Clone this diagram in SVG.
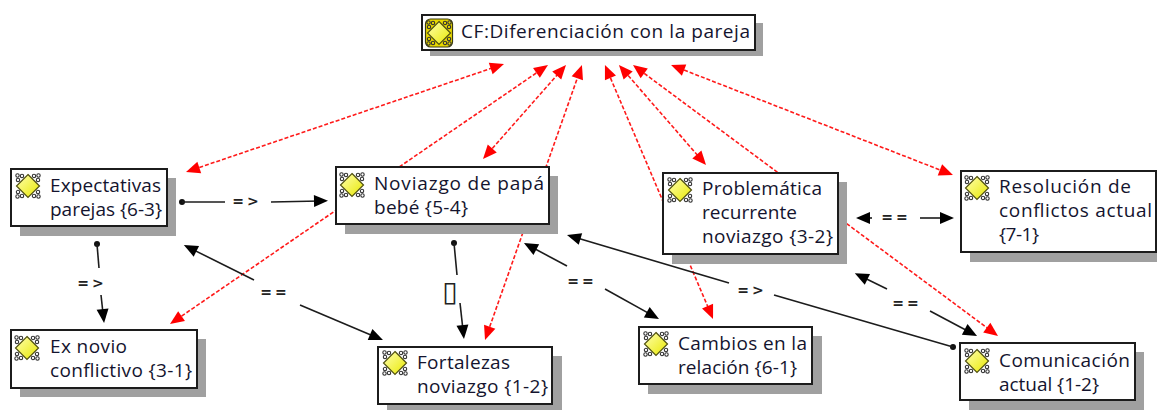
<svg xmlns="http://www.w3.org/2000/svg" xmlns:xlink="http://www.w3.org/1999/xlink" width="1157" height="410" viewBox="0 0 1157 410">
<style>
.box{fill:#fff;stroke:#1c1c1c;stroke-width:2}
.sh{fill:#a0a0a0}
.t{font-family:"Open Sans","DejaVu Sans",sans-serif;font-size:19px;fill:#14142e}
.l{font-family:"DejaVu Sans",sans-serif;font-size:14px;font-weight:bold;letter-spacing:3px;fill:#222;text-anchor:middle}
.r{fill:none;stroke:#ff1a1a;stroke-width:1.6;stroke-dasharray:4 2;marker-start:url(#ra);marker-end:url(#ra)}
.k{fill:none;stroke:#1c1c1c;stroke-width:1.6}
.ks{marker-start:url(#ka)}
.ke{marker-end:url(#ka)}
.d{fill:#111}
.dot{fill:none;stroke:#333;stroke-width:1.1}
</style>
<defs>
<marker id="ra" markerUnits="userSpaceOnUse" markerWidth="16" markerHeight="14" refX="6" refY="6" orient="auto-start-reverse" overflow="visible"><path d="M0 0L14 6L0 12z" fill="#ff0000"/></marker>
<marker id="ka" markerUnits="userSpaceOnUse" markerWidth="16" markerHeight="14" refX="6" refY="6" orient="auto-start-reverse" overflow="visible"><path d="M0 0L14 6L0 12z" fill="#000"/></marker>
<linearGradient id="g" x1="0" y1="0" x2="1" y2="1"><stop offset="0" stop-color="#ffffb0"/><stop offset="1" stop-color="#e8e800"/></linearGradient>
<g id="ic">
<g class="dot"><circle cx="-6" cy="-10" r="1.7"/><circle cx="-10" cy="-6" r="1.7"/><circle cx="-10.500" cy="-10.500" r="1.7"/><circle cx="6" cy="-10" r="1.7"/><circle cx="10" cy="-6" r="1.7"/><circle cx="10.500" cy="-10.500" r="1.7"/><circle cx="-6" cy="10" r="1.7"/><circle cx="-10" cy="6" r="1.7"/><circle cx="-10.500" cy="10.500" r="1.7"/><circle cx="6" cy="10" r="1.7"/><circle cx="10" cy="6" r="1.7"/><circle cx="10.500" cy="10.500" r="1.7"/></g>
<path d="M0-11.500L11.500 0L0 11.500L-11.500 0z" fill="url(#g)" stroke="#505010" stroke-width="1.2"/>
</g>
</defs>
<rect width="1157" height="410" fill="#fff"/>
<g id="connectors">
<path class="r" d="M193.6 169.4L496.4 66.6"/>
<path class="r" d="M176.6 319.5L541.4 69.5"/>
<path class="r" d="M488.3 153L560.7 71"/>
<path class="r" d="M487.7 332.5L579.3 72.5"/>
<path class="r" d="M608.1 72.4L709.9 311.6"/>
<path class="r" d="M624.2 71L700.8 159"/>
<path class="r" d="M639.4 69.8L991.6 331.2"/>
<path class="r" d="M678.5 67.9L945.5 172.1"/>
<circle class="d" cx="182" cy="202" r="3"/><path class="k" d="M182 202L225 202"/>
<path class="k ke" d="M271 202L320 201"/>
<path class="k ks" d="M191 248.6L254 280"/>
<path class="k ke" d="M300 305L375.6 336.9"/>
<circle class="d" cx="97" cy="244" r="3"/><path class="k" d="M97 244L99 268"/>
<path class="k ke" d="M101 295L103.2 315"/>
<circle class="d" cx="454" cy="243" r="3"/><path class="k" d="M454 243L457 275"/>
<path class="k ke" d="M460 303L463.1 331"/>
<path class="k ks" d="M531 246.8L567 266"/>
<path class="k ke" d="M605 289L652 315.1"/>
<path class="k ks" d="M864 218L872 218"/>
<path class="k ke" d="M920 218L946 218"/>
<path class="k ks" d="M862 276.8L887 289"/>
<path class="k ke" d="M930 311L970 332.2"/>
<circle class="d" cx="953" cy="347" r="3"/><path class="k" d="M953 347L774 295"/>
<path class="k ke" d="M729 283L574.7 237.3"/>
<text class="l" x="247" y="206">=&gt;</text>
<text class="l" x="275" y="297">==</text>
<text class="l" x="92" y="288">=&gt;</text>
<text class="l" x="450" y="301" style="font-size:28px;font-weight:normal;letter-spacing:0">▯</text>
<text class="l" x="582" y="286">==</text>
<text class="l" x="896" y="222">==</text>
<text class="l" x="907" y="308">==</text>
<text class="l" x="752" y="295">=&gt;</text>
</g>
<g id="cf">
<rect class="sh" x="430" y="23" width="333" height="33"/><rect class="box" x="422" y="15" width="333" height="35"/>
<rect x="425.500" y="19" width="27" height="28" rx="5" fill="#e8d800" stroke="#3a3a10" stroke-width="1.2"/><use xlink:href="#ic" href="#ic" x="439" y="33"/>
<text class="t" x="461" y="38" textLength="289">CF:Diferenciación con la pareja</text>
</g>
<g id="expectativas">
<rect class="sh" x="20" y="178" width="156" height="58"/><rect class="box" x="11" y="169" width="156" height="57"/>
<use xlink:href="#ic" href="#ic" x="28" y="186"/>
<text class="t" x="50" y="192" textLength="111">Expectativas</text><text class="t" x="50" y="216" textLength="112">parejas {6-3}</text>
</g>
<g id="noviazgo">
<rect class="sh" x="345" y="176" width="213" height="58"/><rect class="box" x="336" y="167" width="213" height="57"/>
<use xlink:href="#ic" href="#ic" x="352" y="185"/>
<text class="t" x="374" y="190" textLength="170">Noviazgo de papá</text><text class="t" x="374" y="214" textLength="94">bebé {5-4}</text>
</g>
<g id="problematica">
<rect class="sh" x="672" y="182" width="175" height="82"/><rect class="box" x="663" y="173" width="175" height="81"/>
<use xlink:href="#ic" href="#ic" x="680" y="190"/>
<text class="t" x="702" y="195" textLength="120">Problemática</text><text class="t" x="702" y="219" textLength="95">recurrente</text><text class="t" x="702" y="243" textLength="131">noviazgo {3-2}</text>
</g>
<g id="resolucion">
<rect class="sh" x="970" y="180" width="187" height="82"/><rect class="box" x="961" y="171" width="195" height="81"/>
<use xlink:href="#ic" href="#ic" x="977" y="188"/>
<text class="t" x="999" y="193" textLength="132">Resolución de</text><text class="t" x="999" y="217" textLength="153">conflictos actual</text><text class="t" x="999" y="241" textLength="40">{7-1}</text>
</g>
<g id="exnovio">
<rect class="sh" x="20" y="339" width="186" height="58"/><rect class="box" x="11" y="330" width="186" height="58"/>
<use xlink:href="#ic" href="#ic" x="27" y="348"/>
<text class="t" x="50" y="353" textLength="77">Ex novio</text><text class="t" x="50" y="377" textLength="142">conflictivo {3-1}</text>
</g>
<g id="fortalezas">
<rect class="sh" x="387" y="356" width="175" height="54"/><rect class="box" x="378" y="347" width="174" height="57"/>
<use xlink:href="#ic" href="#ic" x="395" y="363"/>
<text class="t" x="417" y="369" textLength="93">Fortalezas</text><text class="t" x="417" y="393" textLength="131">noviazgo {1-2}</text>
</g>
<g id="cambios">
<rect class="sh" x="648" y="336" width="174" height="58"/><rect class="box" x="639" y="327" width="173" height="57"/>
<use xlink:href="#ic" href="#ic" x="656" y="344"/>
<text class="t" x="678" y="350" textLength="129">Cambios en la</text><text class="t" x="678" y="374" textLength="119">relación {6-1}</text>
</g>
<g id="comunicacion">
<rect class="sh" x="969" y="352" width="175" height="58"/><rect class="box" x="960" y="343" width="175" height="57"/>
<use xlink:href="#ic" href="#ic" x="977" y="361"/>
<text class="t" x="999" y="367" textLength="131">Comunicación</text><text class="t" x="999" y="391" textLength="100">actual {1-2}</text>
</g>
</svg>
